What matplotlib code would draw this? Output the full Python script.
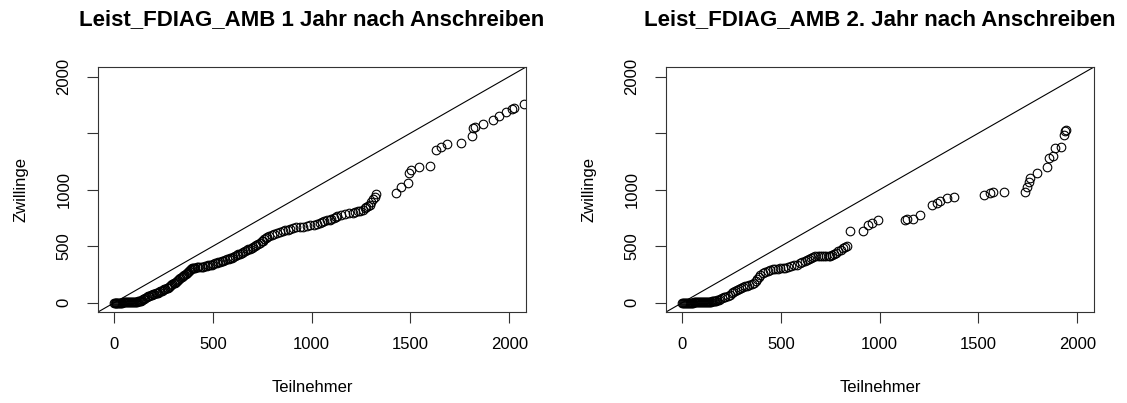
import matplotlib
matplotlib.use("Agg")
import matplotlib.pyplot as plt

plt.rcParams['font.family'] = ['Liberation Sans', 'DejaVu Sans']

titles = ["Leist_FDIAG_AMB 1 Jahr nach Anschreiben",
          "Leist_FDIAG_AMB 2. Jahr nach Anschreiben"]
x_label = "Teilnehmer"
y_label = "Zwillinge"
x_ticks = [0, 500, 1000, 1500, 2000]
y_ticks = [0, 500, 1000, 1500, 2000]
y_tick_labels = ["0", "500", "1000", "", "2000"]

# Panel 1 quantiles (Teilnehmer, Zwillinge)
p1_x = [0, 3, 8, 12, 15, 20, 25, 30, 35, 40, 45, 50, 55, 60, 65, 70, 75, 80, 85, 90,
        95, 100, 105, 110, 115, 120, 125, 130, 135, 140, 145, 152, 158, 165, 172, 178,
        185, 192, 198, 204, 210, 216, 222, 228, 235, 242, 248, 254, 260, 266, 273, 279,
        285, 290, 296, 302, 307, 312, 318, 324, 330, 336, 342, 348, 355, 362, 369, 375,
        380, 385, 390, 395, 399, 405, 412, 418, 425, 435, 444, 452, 460, 469, 478, 486,
        495, 502, 510, 519, 528, 536, 545, 553, 562, 571, 580, 588, 596, 604, 612, 621,
        630, 638, 646, 654, 662, 671, 680, 688, 697, 704, 712, 721, 730, 738, 747, 753,
        760, 768, 775, 786, 798, 812, 825, 840, 854, 867, 880, 892, 905, 920, 940, 958,
        975, 990, 1010, 1025, 1040, 1052, 1065, 1078, 1091, 1100, 1112, 1122, 1131, 1150,
        1170, 1190, 1207, 1222, 1235, 1247, 1258, 1268, 1275, 1284, 1293, 1300, 1310,
        1320, 1328, 1428, 1453, 1486, 1495, 1503, 1545, 1599, 1630, 1655, 1685, 1756,
        1811, 1818, 1828, 1865, 1916, 1949, 1983, 2014, 2025, 2076]
p1_y = [0, 0, 0, 0, 1, 1, 2, 2, 2, 2, 3, 3, 3, 3, 4, 4, 4, 4, 5, 5,
        6, 6, 8, 8, 10, 12, 14, 16, 20, 24, 30, 36, 42, 50, 58, 63,
        68, 73, 78, 82, 85, 88, 90, 96, 103, 108, 115, 120, 125, 130, 135, 142,
        150, 158, 165, 172, 178, 184, 190, 200, 210, 220, 230, 240, 250, 258, 267, 276,
        285, 292, 300, 305, 311, 311, 312, 313, 314, 316, 318, 321, 325, 328, 332, 335,
        338, 343, 348, 353, 358, 362, 367, 372, 378, 384, 390, 395, 400, 406, 412, 420,
        428, 435, 443, 450, 458, 465, 472, 480, 488, 496, 505, 513, 522, 532, 543, 550,
        560, 570, 580, 592, 602, 610, 618, 625, 632, 640, 648, 656, 663, 667, 670, 673,
        676, 684, 692, 700, 708, 715, 722, 728, 735, 745, 752, 760, 770, 778,
        785, 790, 796, 803, 810, 815, 823, 835, 845, 856, 867, 890, 915,
        940, 964, 970, 1028, 1058, 1146, 1175, 1205, 1213, 1352, 1381, 1402, 1411,
        1478, 1543, 1557, 1578, 1616, 1654, 1690, 1713, 1720, 1755]

# Panel 2 quantiles (Teilnehmer, Zwillinge)
p2_x = [0, 5, 10, 15, 20, 25, 30, 35, 40, 45, 50, 55, 60, 65, 70, 75, 80, 85, 90, 95,
        100, 105, 110, 115, 120, 125, 130, 135, 140, 145, 150, 155, 160, 165, 170, 178,
        185, 194, 203, 212, 220, 232, 243, 252, 260, 269, 278, 289, 300, 310, 319, 330,
        340, 352, 363, 372, 380, 388, 397, 410, 422, 435, 447, 460, 472, 485, 497, 510,
        523, 537, 550, 566, 582, 595, 608, 620, 633, 644, 655, 665, 675, 686, 697, 707,
        717, 730, 743, 749, 760, 770, 780, 791, 804, 817, 826, 834, 851,
        918, 943, 960, 994, 1129, 1138, 1171, 1202, 1264, 1290, 1306, 1340, 1374, 1526,
        1559, 1576, 1632, 1737, 1745, 1754, 1762, 1796, 1847, 1858, 1880, 1889, 1919,
        1931, 1939, 1943]
p2_y = [0, 0, 0, 0, 1, 1, 1, 1, 2, 2, 2, 2, 3, 3, 3, 3, 4, 4, 4, 5,
        5, 5, 6, 6, 7, 7, 8, 9, 10, 11, 12, 13, 15, 16, 18, 22,
        28, 36, 44, 50, 55, 64, 73, 84, 95, 106, 117, 125, 132, 139, 146, 153,
        160, 168, 176, 195, 210, 230, 250, 265, 275, 283, 290, 296, 300, 303, 305, 308,
        312, 318, 325, 331, 338, 349, 360, 371, 382, 390, 398, 405, 411, 411, 411, 411,
        411, 411, 412, 413, 420, 430, 442, 455, 470, 485, 495, 505, 632,
        632, 690, 705, 728, 728, 740, 740, 778, 867, 882, 896, 926, 940, 949,
        970, 984, 984, 984, 1020, 1072, 1102, 1146, 1205, 1284, 1302, 1372, 1381,
        1484, 1519, 1528]

W, H = 1127, 403
fig = plt.figure(figsize=(W / 100, H / 100), dpi=100)

panels = [(98, p1_x, p1_y), (666, p2_x, p2_y)]
lim = (-81, 2085)
for (left_px, xs, ys), title in zip(panels, titles):
    ax = fig.add_axes([left_px / W, (H - 312) / H, 428 / W, 245 / H])
    ax.plot(xs, ys, linestyle='none', marker='o', markersize=6.2,
            markerfacecolor='none', markeredgecolor='black', markeredgewidth=0.8)
    ax.axline((0, 0), slope=1, color='black', lw=0.8)
    ax.set_xlim(lim)
    ax.set_ylim(lim)
    ax.set_xticks(x_ticks)
    ax.set_yticks(y_ticks)
    ax.set_yticklabels(y_tick_labels, rotation=90, va='center')
    ax.tick_params(axis='both', length=8, width=0.8, labelsize=12, color='#333333')
    ax.tick_params(axis='x', pad=10)
    ax.tick_params(axis='y', pad=11)
    for s in ax.spines.values():
        s.set_linewidth(0.8)
        s.set_color('#333333')
    ax.set_xlabel(x_label, fontsize=12, labelpad=20)
    ax.set_ylabel(y_label, fontsize=12, labelpad=20)
    cx = (left_px + 214) / W
    fig.text(cx, 1 - 20 / H, title, ha='center', va='center',
             fontsize=16, fontweight='bold')

fig.savefig("out.png", dpi=100)
